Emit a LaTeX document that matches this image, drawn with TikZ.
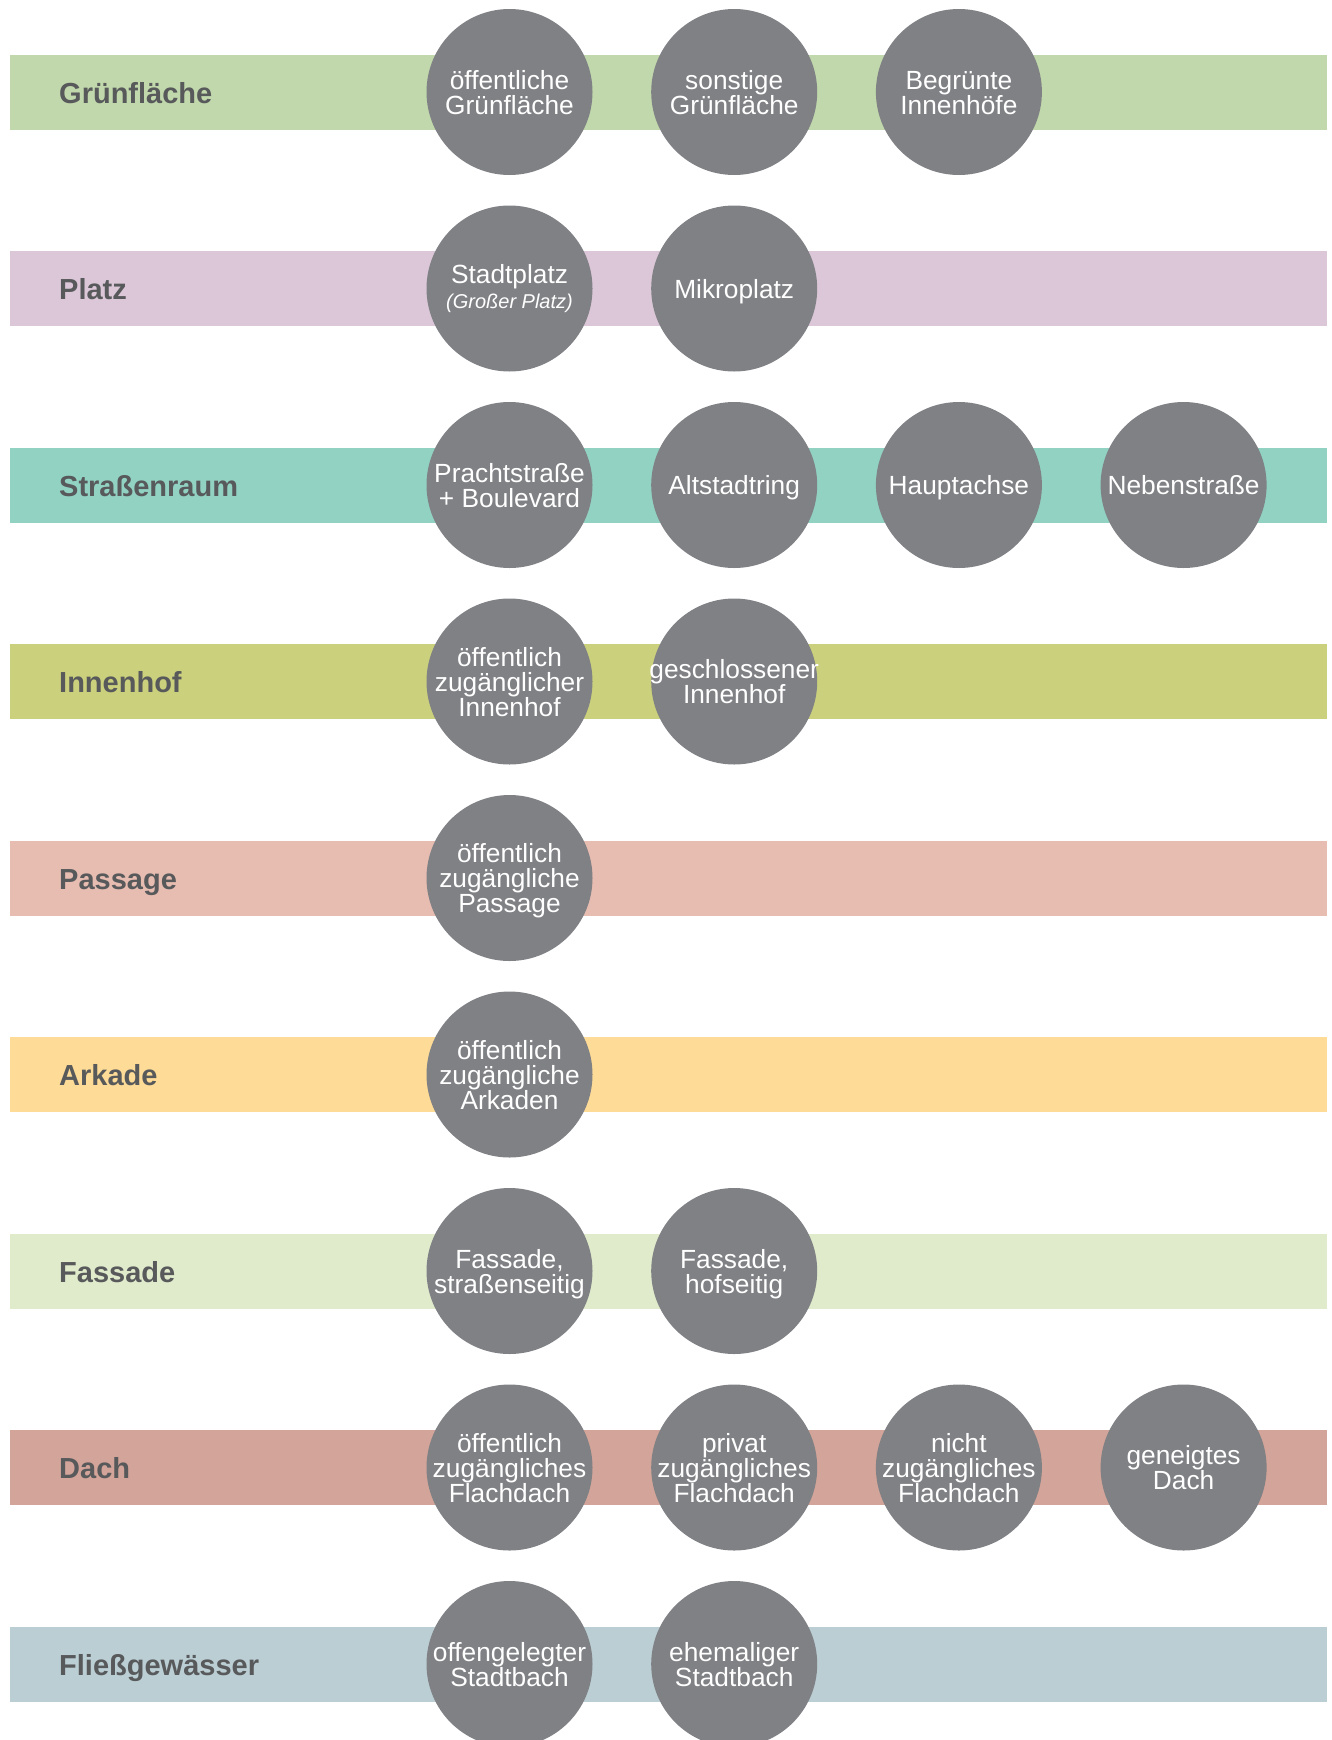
\documentclass[tikz,border=0pt]{standalone}
\usepackage{fontspec}
\setmainfont{Liberation Sans}
\usepackage{tikz}
\usetikzlibrary{positioning}

\definecolor{circgray}{HTML}{808185}
\definecolor{labgray}{HTML}{58595B}
\definecolor{gruen}{HTML}{C0D8AB}
\definecolor{platz}{HTML}{DCC7D9}
\definecolor{strasse}{HTML}{91D2C3}
\definecolor{hof}{HTML}{CBD07C}
\definecolor{passage}{HTML}{E7BCB1}
\definecolor{arkade}{HTML}{FEDB96}
\definecolor{fassade}{HTML}{E0EBCC}
\definecolor{dach}{HTML}{D3A499}
\definecolor{bach}{HTML}{BACED4}

% centred lines with fixed baselines, zero width
\newcommand{\ctext}[1]{\makebox[0pt]{\vbox{\baselineskip=25pt\tabskip=0pt\let\\\cr
  \halign{\hfil\smash{##}\vrule height 22.2pt depth 2.8pt width 0pt\hfil\cr#1\crcr}}}}

\begin{document}
\begin{tikzpicture}[x=1pt, y=-1pt,
  lab/.style={anchor=west, inner sep=0pt, text=labgray, text height=22pt, text depth=0pt,
    font=\bfseries\fontsize{29}{29}\selectfont},
  circ/.style={circle, fill=circgray, inner sep=0pt, minimum size=166pt, text=white,
    font=\fontsize{26.3}{25}\selectfont}]
  \useasboundingbox (0,0) rectangle (1331,1740);

  % Bands with their names
  \foreach \i/\name/\col in {0/Grünfläche/gruen, 1/Platz/platz, 2/Straßenraum/strasse,
      3/Innenhof/hof, 4/Passage/passage, 5/Arkade/arkade, 6/Fassade/fassade,
      7/Dach/dach, 8/Fließgewässer/bach} {
    \fill[\col] (10, 92+196.5*\i-37.5) rectangle (1327, 92+196.5*\i+37.5);
    \node[lab] (l\i) at (59, 92+196.5*\i) {\name};
  }

  % Circles: row/column/text
  \foreach \i/\j/\txt in {
      0/0/{öffentliche\\Grünfläche}, 0/1/{sonstige\\Grünfläche}, 0/2/{Begrünte\\Innenhöfe},
      1/0/{\raisebox{2pt}{Stadtplatz}\\\raisebox{2pt}{\fontsize{20}{20}\selectfont\itshape(Großer Platz)}},
      1/1/{Mikroplatz},
      2/0/{Prachtstraße\\+ Boulevard}, 2/1/{Altstadtring}, 2/2/{Hauptachse}, 2/3/{Nebenstraße},
      3/0/{öffentlich\\zugänglicher\\Innenhof}, 3/1/{geschlossener\\Innenhof},
      4/0/{öffentlich\\zugängliche\\Passage},
      5/0/{öffentlich\\zugängliche\\Arkaden},
      6/0/{Fassade,\\straßenseitig}, 6/1/{Fassade,\\hofseitig},
      7/0/{öffentlich\\zugängliches\\Flachdach}, 7/1/{privat\\zugängliches\\Flachdach},
      7/2/{nicht\\zugängliches\\Flachdach}, 7/3/{geneigtes\\Dach},
      8/0/{offengelegter\\Stadtbach}, 8/1/{ehemaliger\\Stadtbach}} {
    \node[circ] (c\i\j) at (509.5+224.7*\j, 92+196.5*\i) {\ctext{\txt}};
  }
\end{tikzpicture}
\end{document}
